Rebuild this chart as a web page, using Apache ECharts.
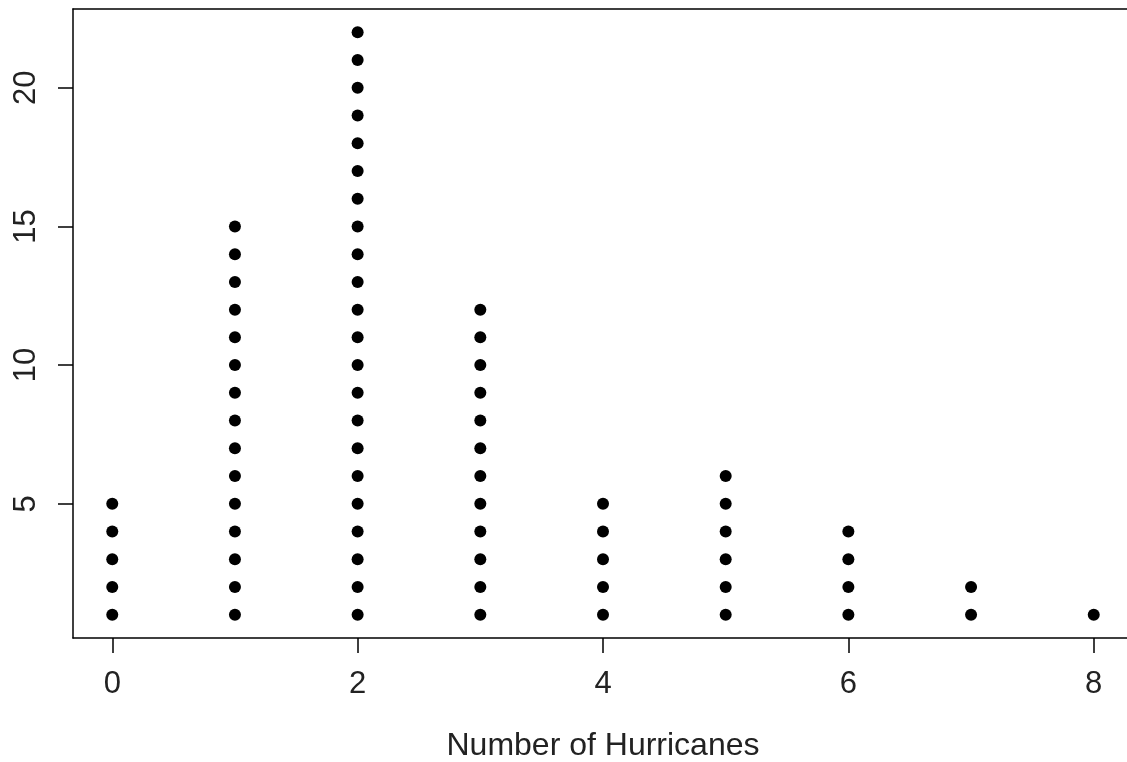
<!DOCTYPE html>
<html>
<head>
<meta charset="utf-8">
<script src="https://cdn.jsdelivr.net/npm/echarts@6/dist/echarts.min.js"></script>
<style>
  html, body { margin: 0; padding: 0; background: #fff; }
  #chart { width: 1127px; height: 762px; }
</style>
</head>
<body>
<div id="chart"></div>
<script>
// Hurricanes per season and how many seasons had that count
const hurricaneCounts = [0, 1, 2, 3, 4, 5, 6, 7, 8];
const seasonTally = [5, 15, 22, 12, 5, 6, 4, 2, 1];
const xTickValues = [0, 2, 4, 6, 8];
const yTickValues = [5, 10, 15, 20];
const xTitle = 'Number of Hurricanes';

// One stacked dot per season
const dots = [];
hurricaneCounts.forEach((h, i) => {
  for (let k = 1; k <= seasonTally[i]; k++) dots.push([h, k]);
});

const font = 'Liberation Sans, Arial, sans-serif';
const ink = '#000';
const axisLineStyle = { color: ink, width: 1.5 };

const chart = echarts.init(document.getElementById('chart'), null, { renderer: 'canvas' });
chart.setOption({
  animation: false,
  backgroundColor: '#fff',
  grid: {
    left: 73, top: 9, width: 1060, height: 629,
    outerBoundsMode: 'none', containLabel: false, show: false
  },
  xAxis: [{
    type: 'value', min: -0.32, max: 8.32, position: 'bottom',
    splitLine: { show: false },
    axisLine: { show: true, onZero: false, lineStyle: axisLineStyle },
    axisTick: { show: true, length: 15, lineStyle: axisLineStyle, customValues: xTickValues },
    axisLabel: { color: '#222', fontFamily: font, fontSize: 31, margin: 31, customValues: xTickValues },
    name: xTitle, nameLocation: 'middle', nameGap: 92,
    nameTextStyle: { color: '#222', fontFamily: font, fontSize: 32 }
  }, {
    // top edge of the plot frame
    type: 'value', min: -0.32, max: 8.32, position: 'top',
    splitLine: { show: false },
    axisLine: { show: true, onZero: false, lineStyle: axisLineStyle },
    axisTick: { show: false },
    axisLabel: { show: false }
  }],
  yAxis: {
    type: 'value', min: 0.16, max: 22.84,
    splitLine: { show: false },
    axisLine: { show: true, onZero: false, lineStyle: axisLineStyle },
    axisTick: { show: true, length: 15, lineStyle: axisLineStyle, customValues: yTickValues },
    axisLabel: { color: '#222', fontFamily: font, fontSize: 31, margin: 31, rotate: 90, customValues: yTickValues }
  },
  series: [{
    type: 'scatter',
    xAxisIndex: 0,
    data: dots,
    symbol: 'circle',
    symbolSize: 12,
    itemStyle: { color: ink, opacity: 1 }
  }]
});
</script>
</body>
</html>
